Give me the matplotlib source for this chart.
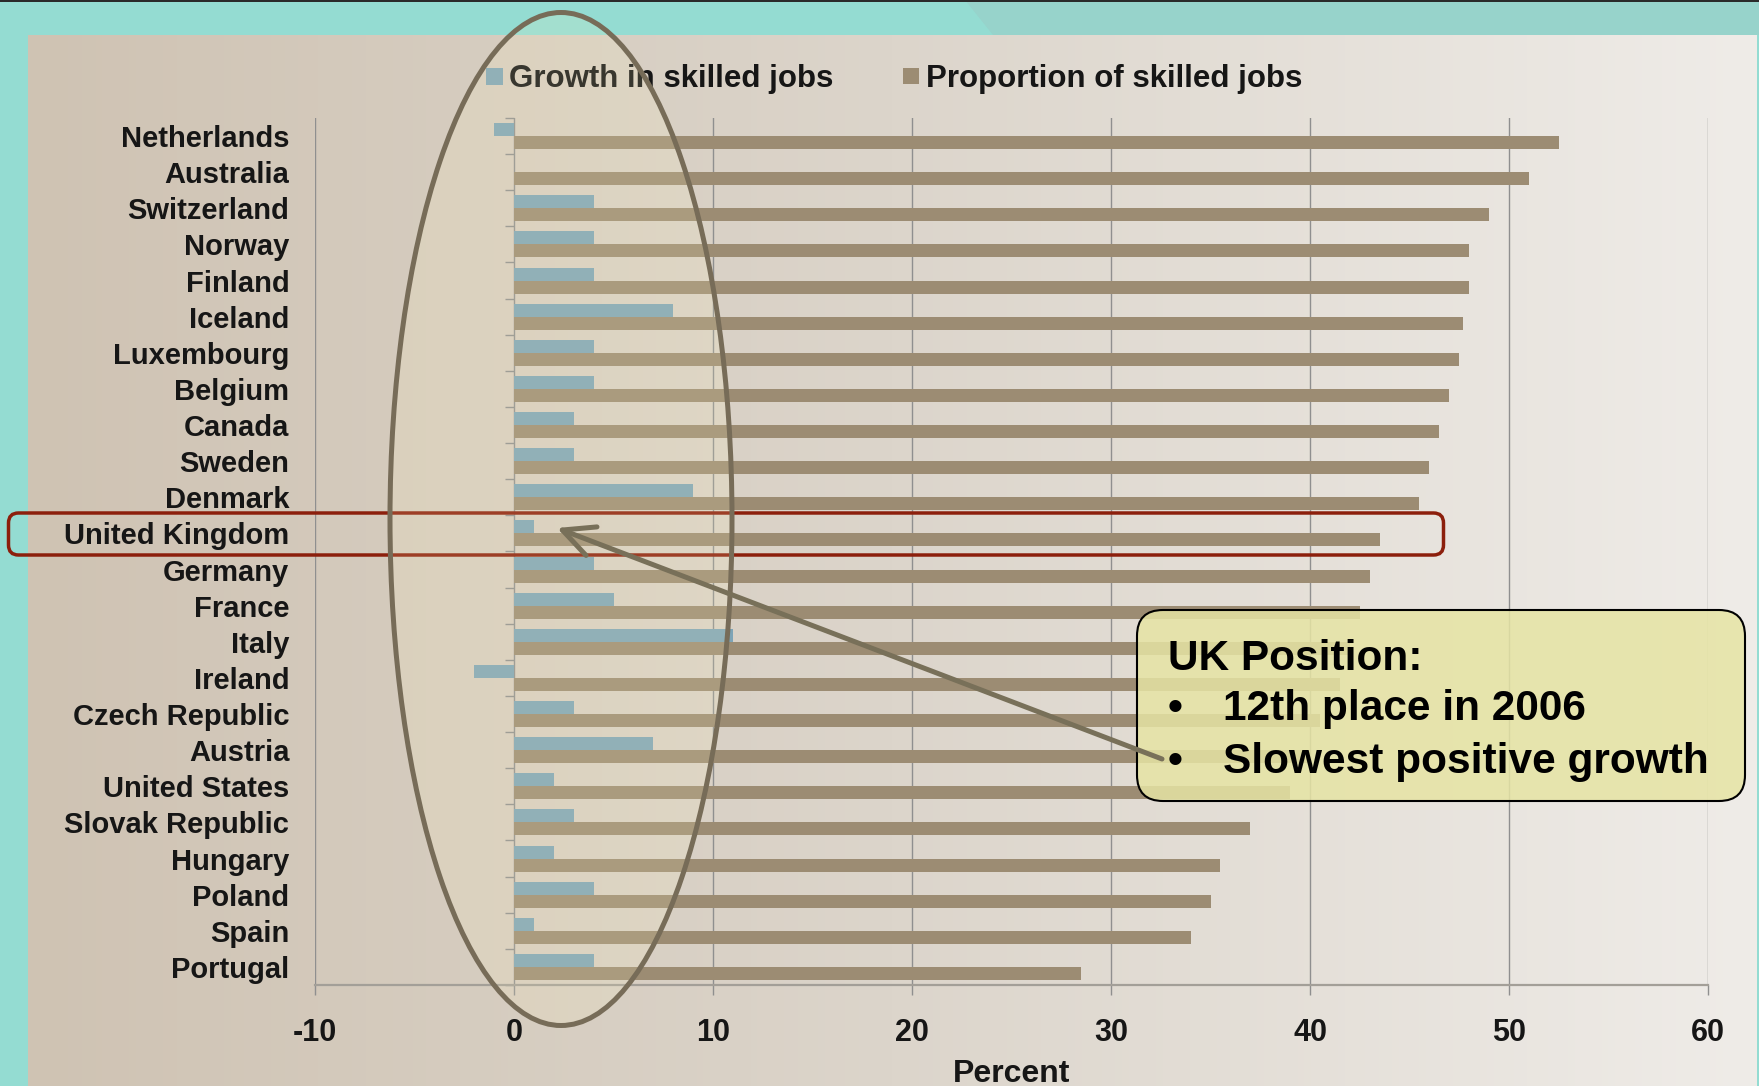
import numpy as np
import matplotlib
matplotlib.use('Agg')
import matplotlib.pyplot as plt
from matplotlib.patches import Rectangle, FancyBboxPatch, Ellipse, Polygon, FancyArrowPatch
from matplotlib.colors import LinearSegmentedColormap

plt.rcParams['font.family'] = ['Liberation Sans', 'DejaVu Sans']
plt.rcParams['axes.unicode_minus'] = False

countries = ['Netherlands', 'Australia', 'Switzerland', 'Norway', 'Finland', 'Iceland',
             'Luxembourg', 'Belgium', 'Canada', 'Sweden', 'Denmark', 'United Kingdom',
             'Germany', 'France', 'Italy', 'Ireland', 'Czech Republic', 'Austria',
             'United States', 'Slovak Republic', 'Hungary', 'Poland', 'Spain', 'Portugal']
growth = [-1, 0, 4, 4, 4, 8, 4, 4, 3, 3, 9, 1, 4, 5, 11, -2, 3, 7, 2, 3, 2, 4, 1, 4]
proportion = [52.5, 51.0, 49.0, 48.0, 48.0, 47.7, 47.5, 47.0, 46.5, 46.0, 45.5, 43.5,
              43.0, 42.5, 42.0, 41.5, 40.5, 40.0, 39.0, 37.0, 35.5, 35.0, 34.0, 28.5]
xticks = [-10, 0, 10, 20, 30, 40, 50, 60]

blue = '#7EA4B6'
tan = '#9C8C73'
grey = '#8F8F8F'
txt = '#161616'

W, H = 1759, 1086
fig = plt.figure(figsize=(W / 100, H / 100), dpi=100)
fig.patch.set_facecolor('#94DCD2')

# slide background
bg = fig.add_axes([0, 0, 1, 1], zorder=0)
panel = LinearSegmentedColormap.from_list('panel', ['#CFC3B3', '#DCD5CB', '#EFECE8'])
bg.imshow(np.linspace(0, 1, 256)[None, :], cmap=panel, extent=(28, 1757, H, 35), aspect='auto')
bg.add_patch(Polygon([(965, 0), (W, 0), (W, 35), (993, 35)], closed=True, color='#97D3CB', lw=0))
bg.add_patch(Rectangle((0, 0), W, 2, color='#2A2A2A', lw=0))
bg.set_xlim(0, W)
bg.set_ylim(H, 0)
bg.axis('off')

# chart
ax = fig.add_axes([315 / W, (H - 985) / H, 1393 / W, 867 / H], zorder=1)
ax.patch.set_alpha(0)
y = np.arange(len(countries))
ax.barh(y - 0.18, growth, height=0.36, color=blue, zorder=2)
ax.barh(y + 0.18, proportion, height=0.36, color=tan, zorder=2)
ax.set_xlim(-10, 60)
ax.set_ylim(len(countries) - 0.5, -0.5)
ax.set_xticks(xticks)
ax.grid(axis='x', color=grey, lw=1.0)
ax.set_axisbelow(True)
for s in ['top', 'right', 'left']:
    ax.spines[s].set_visible(False)
ax.spines['bottom'].set_color('#A39F98')
ax.spines['bottom'].set_linewidth(1.6)
ax.tick_params(axis='x', length=7, width=1, color=grey, pad=16.5, labelsize=22, labelcolor=txt)
for lab in ax.get_xticklabels():
    lab.set_fontweight('bold')
ax.set_yticks(y)
ax.set_yticklabels(countries, fontsize=21, color=txt, fontweight='bold')
ax.tick_params(axis='y', length=0, pad=18.5)
ax.hlines(np.arange(len(countries) + 1) - 0.5, -0.45, 0, color=grey, lw=1, clip_on=False)
ax.set_xlabel('Percent', fontsize=23, color=txt, fontweight='bold')
ax.xaxis.set_label_coords(0.5, -(1074 - 985) / 867)
ax.xaxis.label.set_va('center')

# annotations
ov = fig.add_axes([0, 0, 1, 1], zorder=3)
ov.set_xlim(0, W)
ov.set_ylim(H, 0)
ov.axis('off')

ov.add_patch(Rectangle((486, 68), 17, 17, color=blue, lw=0))
ov.text(509, 79, 'Growth in skilled jobs', va='center', fontsize=22.5, color=txt,
        fontweight='bold')
ov.add_patch(Rectangle((903, 68), 16, 16, color=tan, lw=0))
ov.text(926, 79, 'Proportion of skilled jobs', va='center', fontsize=22.5, color=txt,
        fontweight='bold')

ov.add_patch(FancyBboxPatch((8.5, 513), 1435, 42, boxstyle='round,pad=0,rounding_size=10',
                            fc='none', ec='#8C1F0C', lw=2.5, zorder=2))
ov.add_patch(Ellipse((561, 519), 342, 1013, fc=(1.0, 0.96, 0.75, 0.15), ec='#776C58',
                     lw=3.6, zorder=3))
ov.add_patch(FancyBboxPatch((1137, 610), 608, 191, boxstyle='round,pad=0,rounding_size=26',
                            fc=(0.902, 0.894, 0.643, 0.85), ec='black', lw=1.5, zorder=4))
ov.add_patch(FancyArrowPatch((1162, 759), (557, 528),
                             arrowstyle='->,head_length=0.45,head_width=0.22',
                             mutation_scale=50, lw=3.6, color='#787059',
                             shrinkA=0, shrinkB=0, zorder=5))

ov.text(1168, 670, 'UK Position:', fontsize=30.5, fontweight='bold', color='black', zorder=6)
for yy, s in [(720, '12th place in 2006'), (773, 'Slowest positive growth')]:
    ov.text(1175, yy, '\u2022', fontsize=30.5, fontweight='bold', ha='center', zorder=6)
    ov.text(1223, yy, s, fontsize=30.5, fontweight='bold', color='black', zorder=6)

fig.savefig('out.png', dpi=100)
